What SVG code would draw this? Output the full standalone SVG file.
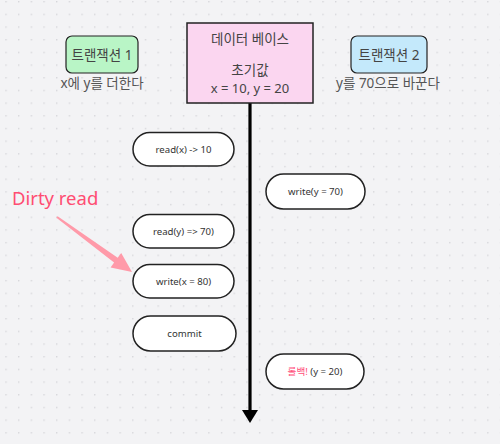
<svg xmlns="http://www.w3.org/2000/svg" width="500" height="444" viewBox="0 0 500 444">
<defs>
<pattern id="dots" x="5.3" y="1" width="12.68" height="12.68" patternUnits="userSpaceOnUse">
<rect x="0" y="0" width="1.4" height="1.4" fill="#d6d6da"/>
</pattern>
<style>
.t{font-family:"Noto Sans","Noto Sans CJK KR",sans-serif;text-anchor:middle}
.title{font-size:13.5px;fill:#444}
.sub{font-size:13.5px;fill:#555}
.pill rect{fill:#fff;stroke:#222;stroke-width:1.5}
.pill text{font-family:"Noto Sans","Noto Sans CJK KR",sans-serif;font-size:9.6px;fill:#333;text-anchor:middle}
</style>
</defs>
<rect width="500" height="444" fill="#f3f3f5"/>
<rect width="500" height="444" fill="url(#dots)"/>

<g id="connectors">
<line x1="250" y1="103" x2="250" y2="412" stroke="#000" stroke-width="3.2"/>
<polygon points="242,410 258,410 250,423" fill="#000"/>
<polygon points="56.4,217.8 114.1,262.6 110.6,267.5 132,272 121.2,252.9 117.7,257.8 57.6,216.2" fill="#ff9aa9"/>
</g>

<g id="tx1">
<rect x="66" y="36" width="72" height="37" rx="6" fill="#b9f5c6" stroke="#222" stroke-width="1.2"/>
<text class="t title" x="102" y="59.5">트랜잭션 1</text>
<text class="t sub" x="102" y="88">x에 y를 더한다</text>
</g>

<g id="db">
<rect x="187" y="23" width="126" height="80" fill="#fbd6f0" stroke="#222" stroke-width="1.5"/>
<text class="t title" x="250" y="44">데이터 베이스</text>
<text class="t title" x="250" y="75">초기값</text>
<text class="t title" x="250" y="93" style="font-size:13px">x = 10, y = 20</text>
</g>

<g id="tx2">
<rect x="351" y="36" width="76" height="37" rx="6" fill="#c4e9fb" stroke="#222" stroke-width="1.2"/>
<text class="t title" x="389" y="59.5">트랜잭션 2</text>
<text class="t sub" x="388" y="88">y를 70으로 바꾼다</text>
</g>

<g id="dirty-label">
<text x="12" y="205" style="font-family:'Noto Sans','Noto Sans CJK KR',sans-serif;font-size:18.5px;fill:#ff4d72">Dirty read</text>
</g>

<g id="read-x" class="pill">
<rect x="133" y="132.5" width="101" height="33.5" rx="16.75"/>
<text x="183.5" y="152.5">read(x) -&gt; 10</text>
</g>
<g id="write-y" class="pill">
<rect x="266" y="174" width="99" height="35" rx="17.5"/>
<text x="315.5" y="194.5">write(y = 70)</text>
</g>
<g id="read-y" class="pill">
<rect x="133" y="214.5" width="101" height="33.5" rx="16.75"/>
<text x="183.5" y="234.5">read(y) =&gt; 70)</text>
</g>
<g id="write-x" class="pill">
<rect x="133" y="264.5" width="101" height="33.5" rx="16.75"/>
<text x="183.5" y="284.5">write(x = 80)</text>
</g>
<g id="commit" class="pill">
<rect x="133" y="316" width="103" height="35" rx="17.5"/>
<text x="184.5" y="336.5">commit</text>
</g>
<g id="rollback" class="pill">
<rect x="266" y="354" width="98" height="35" rx="17.5"/>
<text x="315" y="374.5"><tspan fill="#ff4d79">롤백!</tspan> (y = 20)</text>
</g>
</svg>
